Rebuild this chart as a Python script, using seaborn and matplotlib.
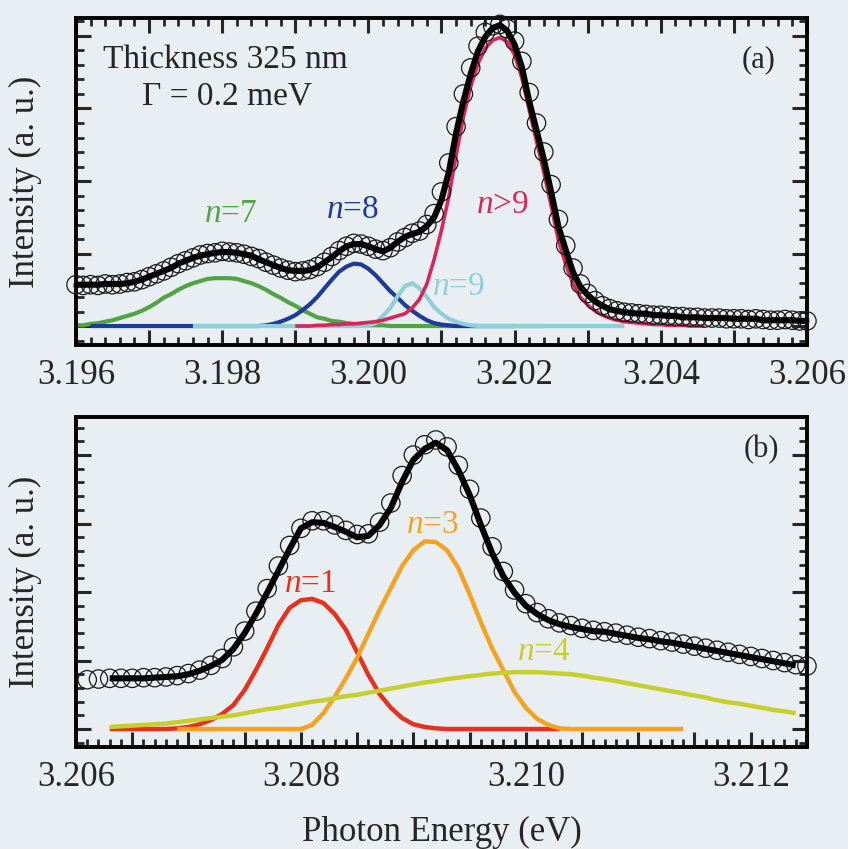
import numpy as np
import pandas as pd
import matplotlib
matplotlib.use("Agg")
import matplotlib.pyplot as plt
import seaborn as sns
from matplotlib.ticker import MultipleLocator, FuncFormatter

# ---------------- panel (a): thickness 325 nm ----------------
# energy grid of the measurement (eV), 0.1 meV step
a_start, a_step, a_n = 3.196, 0.0001, 101

a_data = [0.57, 0.56, 0.57, 0.56, 0.58, 0.57, 0.58, 0.60, 0.61, 0.64,
          0.68, 0.72, 0.76, 0.81, 0.86, 0.90, 0.94, 0.98, 1.00, 1.01,
          1.03, 1.02, 1.01, 0.99, 0.96, 0.93, 0.88, 0.84, 0.80, 0.77,
          0.75, 0.76, 0.78, 0.82, 0.88, 0.96, 1.04, 1.10, 1.14, 1.13,
          1.10, 1.06, 1.04, 1.08, 1.16, 1.22, 1.28, 1.31, 1.40, 1.55,
          1.85, 2.25, 2.75, 3.20, 3.56, 3.86, 4.05, 4.14, 4.16, 4.10,
          3.93, 3.65, 3.22, 2.80, 2.40, 1.95, 1.47, 1.11, 0.80, 0.58,
          0.45, 0.35, 0.28, 0.24, 0.21, 0.19, 0.18, 0.17, 0.16, 0.15,
          0.15, 0.14, 0.13, 0.13, 0.12, 0.12, 0.11, 0.11, 0.11, 0.10,
          0.10, 0.10, 0.09, 0.10, 0.09, 0.08, 0.08, 0.09, 0.08, 0.07,
          0.07]

a_fit = [0.57, 0.57, 0.57, 0.57, 0.58, 0.58, 0.58, 0.59, 0.61, 0.64,
         0.68, 0.72, 0.76, 0.80, 0.86, 0.90, 0.94, 0.97, 0.99, 1.01,
         1.02, 1.02, 1.01, 0.99, 0.97, 0.92, 0.88, 0.84, 0.80, 0.77,
         0.76, 0.76, 0.77, 0.81, 0.88, 0.95, 1.03, 1.10, 1.13, 1.13,
         1.10, 1.06, 1.03, 1.08, 1.16, 1.23, 1.27, 1.30, 1.38, 1.50,
         1.74, 2.12, 2.66, 3.10, 3.48, 3.79, 3.99, 4.11, 4.15, 4.07,
         3.88, 3.57, 3.10, 2.70, 2.30, 1.85, 1.37, 1.05, 0.74, 0.54,
         0.43, 0.34, 0.28, 0.23, 0.21, 0.19, 0.18, 0.17, 0.17, 0.15,
         0.15, 0.14, 0.14, 0.12, 0.12, 0.12, 0.11, 0.11, 0.11, 0.11,
         0.10, 0.10, 0.10, 0.10, 0.08, 0.08, 0.08, 0.08, 0.08, 0.07,
         0.07]

# components: (first grid index, values)
a_n7_first = 0
a_n7 = [0.01, 0.01, 0.03, 0.04, 0.06, 0.08, 0.11, 0.14, 0.17, 0.21,
        0.26, 0.32, 0.39, 0.44, 0.50, 0.55, 0.59, 0.62, 0.65, 0.66,
        0.66, 0.66, 0.65, 0.62, 0.59, 0.55, 0.50, 0.44, 0.39, 0.33,
        0.28, 0.22, 0.17, 0.12, 0.10, 0.07, 0.06, 0.04, 0.03, 0.02,
        0.01, 0.01, 0.01, 0.00, 0.00, 0.00, 0.00, 0.00, 0.00, 0.00,
        0.00, 0.00, 0.00, 0.00, 0.00, 0.00, 0.00, 0.00, 0.00, 0.00,
        0.00]

a_n8_first = 2
a_n8 = [0.00, 0.00, 0.00, 0.00, 0.00, 0.00, 0.00, 0.00, 0.00, 0.00,
        0.00, 0.00, 0.00, 0.00, 0.00, 0.00, 0.00, 0.00, 0.00, 0.00,
        0.00, 0.00, 0.00, 0.00, 0.01, 0.03, 0.06, 0.10, 0.15, 0.22,
        0.30, 0.40, 0.52, 0.64, 0.75, 0.82, 0.86, 0.85, 0.79, 0.70,
        0.59, 0.48, 0.39, 0.29, 0.21, 0.14, 0.08, 0.04, 0.02, 0.01,
        0.00, 0.00, 0.00, 0.00, 0.00, 0.00, 0.00, 0.00, 0.00, 0.00,
        0.00, 0.00, 0.00]

a_n9_first = 16
a_n9 = [0.00, 0.00, 0.00, 0.00, 0.00, 0.00, 0.00, 0.00, 0.00, 0.00,
        0.00, 0.00, 0.00, 0.00, 0.00, 0.00, 0.00, 0.00, 0.00, 0.00,
        0.00, 0.00, 0.00, 0.00, 0.01, 0.04, 0.14, 0.25, 0.41, 0.55,
        0.59, 0.52, 0.40, 0.26, 0.17, 0.10, 0.06, 0.03, 0.01, 0.00,
        0.00, 0.00, 0.00, 0.00, 0.00, 0.00, 0.00, 0.00, 0.00, 0.00,
        0.00, 0.00, 0.00, 0.00, 0.00, 0.00, 0.00, 0.00, 0.00, 0.00]

a_ngt9_first = 30
a_ngt9 = [0.00, 0.00, 0.00, 0.01, 0.01, 0.02, 0.02, 0.03, 0.03, 0.04,
          0.05, 0.06, 0.08, 0.11, 0.14, 0.17, 0.25, 0.37, 0.58, 0.92,
          1.32, 1.78, 2.35, 2.88, 3.30, 3.62, 3.83, 3.94, 3.98, 3.92,
          3.74, 3.42, 2.98, 2.55, 2.12, 1.66, 1.18, 0.85, 0.58, 0.40,
          0.29, 0.21, 0.15, 0.11, 0.08, 0.06, 0.05, 0.04, 0.03, 0.02,
          0.02, 0.01, 0.01, 0.01, 0.00, 0.00, 0.00]

# ---------------- panel (b) ----------------
b_data_start, b_step = 3.2061, 0.0001
b_data = [0.72, 0.73, 0.74, 0.74, 0.74, 0.75, 0.75, 0.76, 0.78, 0.81,
          0.86, 0.93, 1.03, 1.20, 1.43, 1.72, 2.05, 2.38, 2.68, 2.93,
          3.04, 3.04, 2.98, 2.90, 2.84, 2.85, 3.02, 3.30, 3.70, 4.00,
          4.15, 4.22, 4.12, 3.85, 3.50, 3.08, 2.66, 2.30, 2.03, 1.83,
          1.70, 1.61, 1.55, 1.51, 1.47, 1.44, 1.42, 1.40, 1.37, 1.34,
          1.32, 1.29, 1.27, 1.24, 1.21, 1.18, 1.15, 1.12, 1.09, 1.06,
          1.03, 1.00, 0.97, 0.94, 0.92]

b_line_start = 3.2063
b_fit = [0.74, 0.74, 0.74, 0.74, 0.75, 0.76, 0.77, 0.80, 0.85, 0.92,
         1.01, 1.17, 1.40, 1.68, 1.99, 2.31, 2.63, 2.93, 3.02, 3.01,
         2.95, 2.88, 2.80, 2.82, 2.98, 3.23, 3.61, 3.93, 4.09, 4.18,
         4.07, 3.78, 3.42, 2.98, 2.57, 2.23, 1.99, 1.80, 1.68, 1.59,
         1.53, 1.49, 1.46, 1.43, 1.42, 1.39, 1.36, 1.33, 1.31, 1.28,
         1.26, 1.23, 1.20, 1.17, 1.14, 1.11, 1.08, 1.05, 1.02, 0.99,
         0.96, 0.93]

b_n1_first = 0
b_n1 = [0.00, 0.00, 0.00, 0.00, 0.00, 0.00, 0.01, 0.03, 0.07, 0.13,
        0.22, 0.35, 0.57, 0.86, 1.18, 1.52, 1.77, 1.88, 1.90, 1.84,
        1.68, 1.45, 1.12, 0.79, 0.51, 0.31, 0.16, 0.07, 0.03, 0.01,
        0.00, 0.00, 0.00, 0.00, 0.00, 0.00, 0.00, 0.00, 0.00, 0.00,
        0.00]

b_n3_first = 6
b_n3 = [0.00, 0.00, 0.00, 0.00, 0.00, 0.00, 0.00, 0.00, 0.00, 0.00,
        0.00, 0.00, 0.06, 0.23, 0.47, 0.74, 1.04, 1.39, 1.74, 2.06,
        2.38, 2.61, 2.74, 2.73, 2.61, 2.35, 1.97, 1.56, 1.18, 0.86,
        0.54, 0.31, 0.15, 0.06, 0.01, 0.00, 0.00, 0.00, 0.00, 0.00,
        0.00, 0.00, 0.00, 0.00, 0.00, 0.00]

b_n4_first = 0
b_n4 = [0.03, 0.04, 0.05, 0.06, 0.07, 0.08, 0.10, 0.12, 0.14, 0.16,
        0.18, 0.20, 0.23, 0.26, 0.29, 0.31, 0.34, 0.37, 0.40, 0.42,
        0.45, 0.48, 0.50, 0.53, 0.56, 0.59, 0.62, 0.65, 0.68, 0.70,
        0.73, 0.75, 0.77, 0.79, 0.81, 0.82, 0.83, 0.83, 0.83, 0.82,
        0.81, 0.80, 0.78, 0.75, 0.73, 0.70, 0.67, 0.64, 0.61, 0.58,
        0.55, 0.52, 0.49, 0.46, 0.42, 0.39, 0.37, 0.34, 0.31, 0.28,
        0.26, 0.23]

BG = "#e9eef3"
COLORS = {"n7": "#4fa444", "n8": "#1d3c98", "n9": "#8fcfd9", "ngt9": "#d6275a",
          "n1": "#e5321f", "n3": "#f2a324", "n4": "#c6cf2b"}


def grid(start, n, step=0.0001):
    return np.round(start + step * np.arange(n), 5)


def draw_line(ax, x, y, color, lw, z=2):
    df = pd.DataFrame({"E": x, "I": y})
    sns.lineplot(data=df, x="E", y="I", ax=ax, color=color, lw=lw,
                 estimator=None, sort=False, legend=False, zorder=z,
                 solid_capstyle="butt", clip_on=False)


def draw_data(ax, x, y):
    df = pd.DataFrame({"E": x, "I": y})
    sns.scatterplot(data=df, x="E", y="I", ax=ax, marker="o", s=175,
                    facecolors="none", edgecolor="#1a1a1a", linewidth=0.9,
                    zorder=3, clip_on=False, legend=False)


def style_axes(ax, xmajor, xlabel_every, top_ticks):
    ax.set_facecolor(BG)
    for sp in ax.spines.values():
        sp.set_linewidth(2.8)
        sp.set_color("black")
    ax.xaxis.set_major_locator(MultipleLocator(xmajor))
    ax.xaxis.set_minor_locator(MultipleLocator(xmajor / 5))
    ax.yaxis.set_major_locator(MultipleLocator(1.0))
    ax.yaxis.set_minor_locator(MultipleLocator(0.2))

    def fmt(v, pos):
        k = v / xlabel_every
        return f"{v:.3f}" if abs(k - round(k)) < 1e-4 else ""

    ax.xaxis.set_major_formatter(FuncFormatter(fmt))
    ax.tick_params(axis="both", which="major", direction="in", length=11,
                   width=2.2, labelsize=25, pad=10, top=top_ticks, right=True,
                   labelleft=False)
    ax.tick_params(axis="both", which="minor", direction="in", length=5.5,
                   width=2.0, top=top_ticks, right=True)
    ax.set_xlabel("")
    ax.set_ylabel("Intensity (a. u.)", fontsize=25)
    ax.yaxis.set_label_coords(-0.047, 0.5)


sns.set_theme(style="ticks")
plt.rcParams["font.family"] = ["Liberation Serif", "DejaVu Serif"]
plt.rcParams["mathtext.fontset"] = "custom"
plt.rcParams["mathtext.it"] = "Liberation Serif:italic"
plt.rcParams["mathtext.rm"] = "Liberation Serif"

fig = plt.figure(figsize=(8.48, 8.49), dpi=100)
fig.patch.set_facecolor(BG)

# ---- (a)
ax1 = fig.add_axes([0.0896, 0.5936, 0.862, 0.3852])
ea = grid(a_start, a_n, a_step)
draw_line(ax1, ea[a_n7_first:a_n7_first + len(a_n7)], a_n7, COLORS["n7"], 3.0)
draw_line(ax1, ea[a_n8_first:a_n8_first + len(a_n8)], a_n8, COLORS["n8"], 3.0)
draw_line(ax1, ea[a_n9_first:a_n9_first + len(a_n9)], a_n9, COLORS["n9"], 3.0)
draw_line(ax1, ea[a_ngt9_first:a_ngt9_first + len(a_ngt9)], a_ngt9, COLORS["ngt9"], 2.6)
draw_data(ax1, ea, a_data)
draw_line(ax1, ea, a_fit, "black", 4.4, z=4)
ax1.set_xlim(3.196, 3.206)
ax1.set_ylim(-0.262, 4.248)
style_axes(ax1, 0.001, 0.002, True)

ax1.text(0.037, 0.847, "Thickness 325 nm", transform=ax1.transAxes,
         fontsize=24, va="baseline", ha="left")
ax1.text(0.090, 0.734, "\u0393 = 0.2 meV", transform=ax1.transAxes,
         fontsize=24, va="baseline", ha="left")
ax1.text(0.934, 0.850, "(a)", transform=ax1.transAxes, fontsize=22,
         va="baseline", ha="center")
ax1.text(0.212, 0.376, r"$n$=7", transform=ax1.transAxes, fontsize=24,
         va="baseline", ha="center", color=COLORS["n7"])
ax1.text(0.378, 0.388, r"$n$=8", transform=ax1.transAxes, fontsize=24,
         va="baseline", ha="center", color=COLORS["n8"])
ax1.text(0.523, 0.153, r"$n$=9", transform=ax1.transAxes, fontsize=24,
         va="baseline", ha="center", color=COLORS["n9"])
ax1.text(0.584, 0.404, r"$n$>9", transform=ax1.transAxes, fontsize=24,
         va="baseline", ha="center", color=COLORS["ngt9"])

# ---- (b)
ax2 = fig.add_axes([0.0896, 0.1201, 0.862, 0.3887])
eb = grid(b_line_start, len(b_fit))
draw_line(ax2, eb[b_n1_first:b_n1_first + len(b_n1)], b_n1, COLORS["n1"], 3.2)
draw_line(ax2, eb[b_n3_first:b_n3_first + len(b_n3)], b_n3, COLORS["n3"], 3.2)
draw_line(ax2, eb[b_n4_first:b_n4_first + len(b_n4)], b_n4, COLORS["n4"], 3.2)
draw_data(ax2, grid(b_data_start, len(b_data)), b_data)
draw_line(ax2, eb, b_fit, "black", 4.4, z=4)
ax2.set_xlim(3.206, 3.2125)
ax2.set_ylim(-0.263, 4.555)
style_axes(ax2, 0.0005, 0.002, False)

ax2.text(0.938, 0.879, "(b)", transform=ax2.transAxes, fontsize=22,
         va="baseline", ha="center")
ax2.text(0.320, 0.470, r"$n$=1", transform=ax2.transAxes, fontsize=24,
         va="baseline", ha="center", color=COLORS["n1"])
ax2.text(0.487, 0.648, r"$n$=3", transform=ax2.transAxes, fontsize=24,
         va="baseline", ha="center", color=COLORS["n3"])
ax2.text(0.640, 0.264, r"$n$=4", transform=ax2.transAxes, fontsize=24,
         va="baseline", ha="center", color=COLORS["n4"])

fig.text(0.521, 0.010, "Photon Energy (eV)", fontsize=25, ha="center",
         va="baseline")

fig.savefig("out.png", dpi=100, facecolor=BG)
